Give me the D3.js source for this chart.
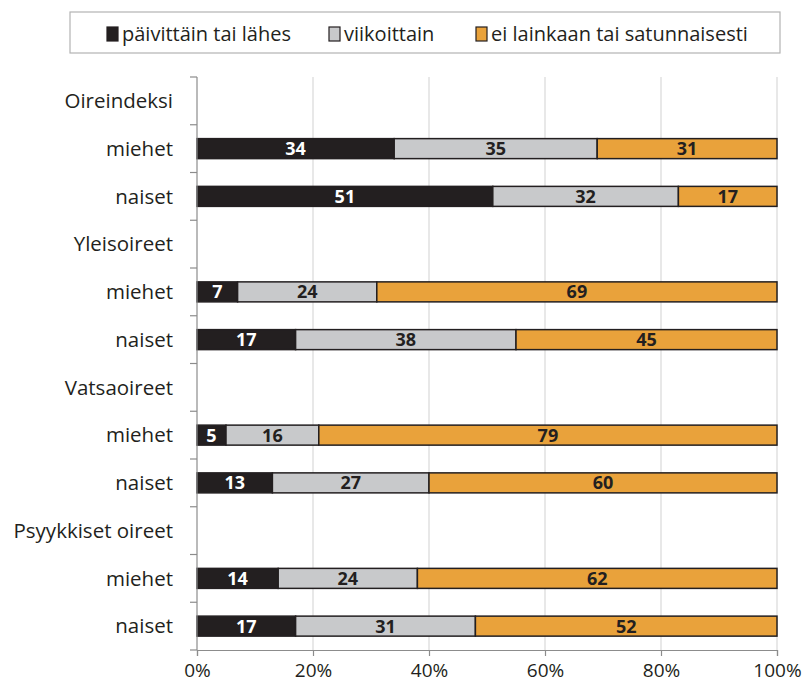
<!DOCTYPE html>
<html>
<head>
<meta charset="utf-8">
<script src="https://cdn.jsdelivr.net/npm/d3@7"></script>
<style>
  body { margin: 0; background: #fff; }
  svg text { font-family: "Open Sans", sans-serif; }
</style>
</head>
<body>
<svg id="chart"></svg>
<script>
// Row labels (group headers have no values)
const rows = ["Oireindeksi", "miehet", "naiset", "Yleisoireet", "miehet", "naiset",
              "Vatsaoireet", "miehet", "naiset", "Psyykkiset oireet", "miehet", "naiset"];
const seriesNames = ["päivittäin tai lähes", "viikoittain", "ei lainkaan tai satunnaisesti"];
const daily  = [null, 34, 51, null, 7, 17, null, 5, 13, null, 14, 17];
const weekly = [null, 35, 32, null, 24, 38, null, 16, 27, null, 24, 31];
const never  = [null, 31, 17, null, 69, 45, null, 79, 60, null, 62, 52];
const ticks = [0, 20, 40, 60, 80, 100];
const colors = ["#231f20", "#c8c9cb", "#e9a23b"];

const width = 805;
const height = 687;
const margin = { top: 77, right: 28, bottom: 37, left: 197 };

const svg = d3.select("#chart")
    .attr("width", width)
    .attr("height", height);

const xScale = d3.scaleLinear()
    .domain([0, 100])
    .range([margin.left, width - margin.right]);

const yScale = d3.scaleBand()
    .domain(d3.range(rows.length))
    .range([margin.top, height - margin.bottom])
    .paddingInner(0.58)
    .paddingOuter(0.29);

const step = yScale.step();
const barH = 20;

// Gridlines
svg.append("g")
    .selectAll("line")
    .data(ticks.slice(1))
    .enter()
    .append("line")
    .attr("x1", d => xScale(d))
    .attr("x2", d => xScale(d))
    .attr("y1", margin.top)
    .attr("y2", height - margin.bottom)
    .attr("stroke", "#d9d9d9")
    .attr("stroke-width", 1.2);

// Stacked data
const data = rows.map((r, i) => ({ i, values: [daily[i], weekly[i], never[i]] }))
    .filter(d => d.values[0] !== null);

const segments = [];
data.forEach(d => {
    let acc = 0;
    d.values.forEach((v, k) => {
        segments.push({ i: d.i, k, x0: acc, x1: acc + v, v });
        acc += v;
    });
});

const mid = i => yScale(i) + yScale.bandwidth() / 2;

svg.append("g")
    .selectAll("rect")
    .data(segments)
    .enter()
    .append("rect")
    .attr("x", d => xScale(d.x0))
    .attr("y", d => mid(d.i) - barH / 2)
    .attr("width", d => xScale(d.x1) - xScale(d.x0))
    .attr("height", barH)
    .attr("fill", d => colors[d.k])
    .attr("stroke", "#231f20")
    .attr("stroke-width", 1.5);

svg.append("g")
    .selectAll("text")
    .data(segments)
    .enter()
    .append("text")
    .attr("x", d => xScale((d.x0 + d.x1) / 2))
    .attr("y", d => mid(d.i))
    .attr("dy", "0.36em")
    .attr("text-anchor", "middle")
    .style("font-size", "18px")
    .style("font-weight", "bold")
    .style("fill", d => d.k === 0 ? "#fff" : "#231f20")
    .text(d => d.v);

// Y axis: line, ticks at band boundaries, labels
const yAxis = svg.append("g");
yAxis.append("line")
    .attr("x1", margin.left).attr("x2", margin.left)
    .attr("y1", margin.top).attr("y2", height - margin.bottom)
    .attr("stroke", "#8c8c8c").attr("stroke-width", 1.2);
yAxis.selectAll(".ytick")
    .data(d3.range(rows.length + 1))
    .enter()
    .append("line")
    .attr("x1", margin.left - 7).attr("x2", margin.left)
    .attr("y1", d => margin.top + d * step)
    .attr("y2", d => margin.top + d * step)
    .attr("stroke", "#8c8c8c").attr("stroke-width", 1.2);
yAxis.selectAll(".ylabel")
    .data(rows)
    .enter()
    .append("text")
    .attr("x", margin.left - 24)
    .attr("y", (d, i) => mid(i))
    .attr("dy", "0.35em")
    .attr("text-anchor", "end")
    .style("font-size", "20.5px")
    .style("fill", "#231f20")
    .text(d => d);

// X axis
const xAxis = svg.append("g")
    .attr("transform", `translate(0, ${height - margin.bottom})`)
    .call(d3.axisBottom(xScale).tickValues(ticks).tickSize(6).tickFormat(d => d + "%"));
xAxis.select(".domain").attr("stroke", "#8c8c8c").attr("stroke-width", 1.2);
xAxis.selectAll(".tick line").attr("stroke", "#8c8c8c").attr("stroke-width", 1.2);
xAxis.selectAll(".tick text")
    .attr("y", 27)
    .attr("dy", 0)
    .style("font-size", "19px")
    .style("font-family", "'Open Sans', sans-serif")
    .style("fill", "#231f20");

// Legend
const legend = svg.append("g");
legend.append("rect")
    .attr("x", 70).attr("y", 12)
    .attr("width", 710).attr("height", 41)
    .attr("fill", "#fff")
    .attr("stroke", "#b3b3b3").attr("stroke-width", 1.2);
const legendX = [107, 329, 476];
seriesNames.forEach((name, k) => {
    legend.append("rect")
        .attr("x", legendX[k]).attr("y", 27)
        .attr("width", 11).attr("height", 14)
        .attr("fill", colors[k])
        .attr("stroke", "#231f20").attr("stroke-width", 1.2);
    legend.append("text")
        .attr("x", legendX[k] + 15).attr("y", 34)
        .attr("dy", "0.35em")
        .style("font-size", "20px")
        .style("fill", "#231f20")
        .text(name);
});
</script>
</body>
</html>
